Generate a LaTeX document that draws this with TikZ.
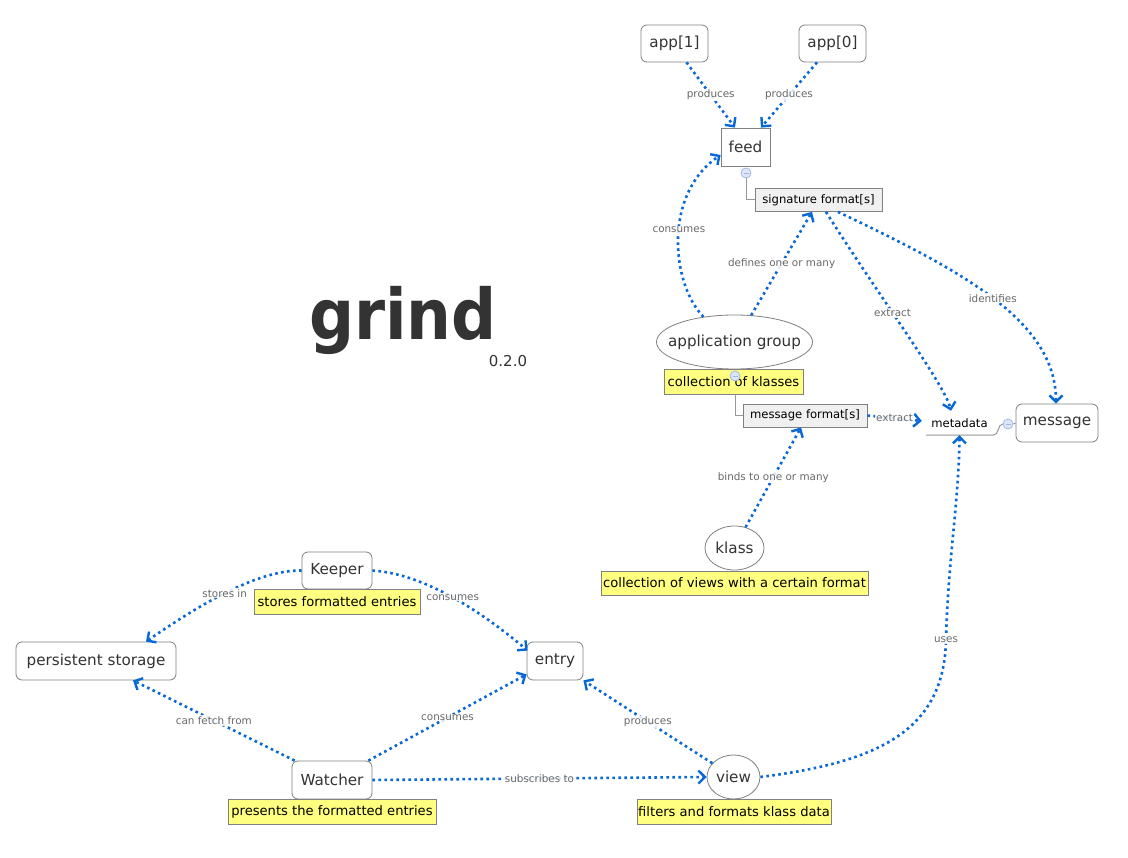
\documentclass[tikz,border=0pt]{standalone}
\usepackage{fontspec}
\setmainfont{DejaVu Sans}
\newfontfamily\titlefont{DejaVu Sans Condensed}
\usetikzlibrary{arrows.meta,calc,shapes.geometric}
\definecolor{edgeblue}{RGB}{8,104,216}
\definecolor{bordergray}{RGB}{128,128,128}
\definecolor{nodetext}{RGB}{51,51,51}
\definecolor{lbltext}{RGB}{105,105,105}
\definecolor{notefill}{RGB}{255,255,128}
\definecolor{sigfill}{RGB}{240,240,240}
\definecolor{collfill}{RGB}{220,230,248}
\definecolor{collborder}{RGB}{160,185,230}
\definecolor{conngray}{RGB}{150,150,150}
\tikzset{
  box/.style={draw=bordergray, line width=0.8pt, fill=white, rounded corners=6pt, text=nodetext,
    font=\fontsize{15.2}{18}\selectfont, inner sep=0pt},
  sharpbox/.style={draw=bordergray, line width=0.8pt, fill=white, text=nodetext,
    font=\fontsize{15.2}{18}\selectfont, inner sep=0pt},
  oval/.style={ellipse, draw=bordergray, line width=0.8pt, fill=white, text=nodetext,
    font=\fontsize{15.2}{18}\selectfont, inner sep=0pt},
  smallbox/.style={draw=bordergray, line width=0.8pt, fill=sigfill, text=black,
    font=\fontsize{11.6}{14}\selectfont, inner sep=0pt},
  note/.style={draw=bordergray, line width=0.8pt, fill=notefill, text=black,
    font=\fontsize{13.1}{15}\selectfont, inner sep=0pt},
  lbl/.style={fill=white, fill opacity=0.85, text opacity=1, text=lbltext,
    font=\fontsize{10.4}{12}\selectfont, inner sep=1pt},
  edge/.style={draw=edgeblue, line width=2.6pt, dash pattern=on 2.6pt off 3.4pt,
    -{Straight Barb[length=6.5pt,width=13pt,line width=2.4pt]}},
  conn/.style={draw=conngray, line width=1pt},
  collapse/.style={circle, draw=collborder, fill=collfill, line width=0.8pt, minimum size=10pt, inner sep=0pt},
}
\begin{document}
\begin{tikzpicture}[x=1pt,y=-1pt]
\useasboundingbox (0,0) rectangle (1128,858);
\fill[white] (0,0) rectangle (1128,858);

% title
\node[anchor=base west, text=nodetext, font=\titlefont\bfseries\fontsize{70}{80}\selectfont, inner sep=0pt] (title) at (309,340) {grind};
\node[text=nodetext, font=\fontsize{15}{18}\selectfont, inner sep=0pt] (ver) at (508,361) {0.2.0};

% nodes
\node[box, minimum width=67pt, minimum height=37pt] (app1) at (674.5,43.5) {app[1]};
\node[box, minimum width=67pt, minimum height=37pt] (app0) at (832.5,43.5) {app[0]};
\node[sharpbox, minimum width=49pt, minimum height=38pt] (feed) at (745.5,147) {feed};
\node[smallbox, minimum width=127pt, minimum height=23pt] (sigfmt) at (818.5,200) {signature format[s]};
\node[oval, minimum width=156pt, minimum height=54pt] (appgroup) at (734.5,342) {\makebox[0pt]{application group}};
\node[note, minimum width=139pt, minimum height=25pt] (note1) at (733.5,381.5) {collection of klasses};
\node[smallbox, minimum width=124pt, minimum height=23pt] (msgfmt) at (805,415.5) {message format[s]};
\node[text=black, font=\fontsize{11.6}{14}\selectfont, inner sep=0pt, minimum width=67pt, minimum height=24pt] (meta) at (959.5,423) {metadata};
\node[box, minimum width=82pt, minimum height=38pt] (message) at (1057,423) {message};
\node[oval, minimum width=59pt, minimum height=44pt] (klass) at (734.5,548) {\makebox[0pt]{klass}};
\node[note, minimum width=267pt, minimum height=24pt] (note2) at (734.5,583) {collection of views with a certain format};
\node[box, minimum width=70pt, minimum height=37pt] (keeper) at (337,570.5) {Keeper};
\node[note, minimum width=166pt, minimum height=25pt] (note3) at (337,601.5) {stores formatted entries};
\node[box, minimum width=160pt, minimum height=38pt] (pstore) at (96,661) {persistent storage};
\node[box, minimum width=80pt, minimum height=38pt] (watcher) at (332,780) {Watcher};
\node[note, minimum width=208pt, minimum height=25pt] (note4) at (332,811.5) {presents the formatted entries};
\node[box, minimum width=56pt, minimum height=38pt] (entry) at (555,661) {entry};
\node[oval, minimum width=53pt, minimum height=44pt] (view) at (733.5,777) {\makebox[0pt]{view}};
\node[note, minimum width=194pt, minimum height=25pt] (note5) at (734,811.5) {filters and formats klass data};

% collapse markers and gray connectors
\node[collapse] (c1) at (746,173) {};
\draw[collborder, line width=0.8pt] ($(c1.center)+(-2.5,0)$) -- ($(c1.center)+(2.5,0)$);
\draw[conn] (c1.south) |- (sigfmt.west);
\draw[conn] ($(note1.south)+(1.5,0)$) |- (msgfmt.west);
\node[collapse] (c2) at (735,376) {};
\draw[collborder, line width=0.8pt] ($(c2.center)+(-2.5,0)$) -- ($(c2.center)+(2.5,0)$);
\node[collapse] (c3) at (1008,424) {};
\draw[collborder, line width=0.8pt] ($(c3.center)+(-2.5,0)$) -- ($(c3.center)+(2.5,0)$);
\draw[conn] (meta.south west) -- (meta.south east) .. controls +(6,0) and +(-5,0) .. (c3.west);
\draw[conn] (c3.east) -- (message.west);

% connectors
\draw[edge] ($(app1.south)+(12,0)$) -- node[lbl]{produces} ($(feed.north)+(-10.5,0)$);
\draw[edge] ($(app0.south)+(-15.5,0)$) -- node[lbl]{produces} ($(feed.north)+(15.5,0)$);
\draw[edge] (appgroup.141) .. controls (672,285) and (662,195) .. node[lbl,pos=0.55]{consumes} ($(feed.west)+(0,8)$);
\draw[edge] (appgroup.58) -- node[lbl]{defines one or many} ($(sigfmt.south)+(-6.5,0)$);
\draw[edge] ($(sigfmt.south)+(7.5,0)$) .. controls (875,290) and (945,385) .. node[lbl,pos=0.42]{extract} ($(meta.north)+(-8.5,0)$);
\draw[edge] ($(sigfmt.south)+(19.5,0)$) .. controls (960,270) and (1056,320) .. node[lbl]{identifies} ($(message.north)+(-1,0)$);
\draw[edge] (msgfmt.east) -- node[lbl]{extract} ($(meta.west)+(-4,-2)$);
\draw[edge] (klass.62) -- node[lbl]{binds to one or many} ($(msgfmt.south)+(-4,0)$);
\draw[edge] (view.east) .. controls (880,762) and (944,730) .. (946,640) node[lbl]{uses} .. controls (948,560) and (959,500) .. (meta.south);
\draw[edge] (view.147) -- node[lbl]{produces} (entry.south east);
\draw[edge] (watcher.east) -- node[lbl]{subscribes to} (view.west);
\draw[edge] ($(watcher.north east)+(-4,0)$) -- node[lbl]{consumes} ($(entry.south west)+(0,-6)$);
\draw[edge] ($(watcher.north west)+(3,0)$) -- node[lbl]{can fetch from} ($(pstore.south)+(37,0)$);
\draw[edge] (keeper.west) .. controls (255,570) and (195,608) .. node[lbl]{stores in} ($(pstore.north)+(50,0)$);
\draw[edge] (keeper.east) .. controls (425,574) and (482,612) .. node[lbl]{consumes} ($(entry.north west)+(1,9)$);
\end{tikzpicture}
\end{document}
